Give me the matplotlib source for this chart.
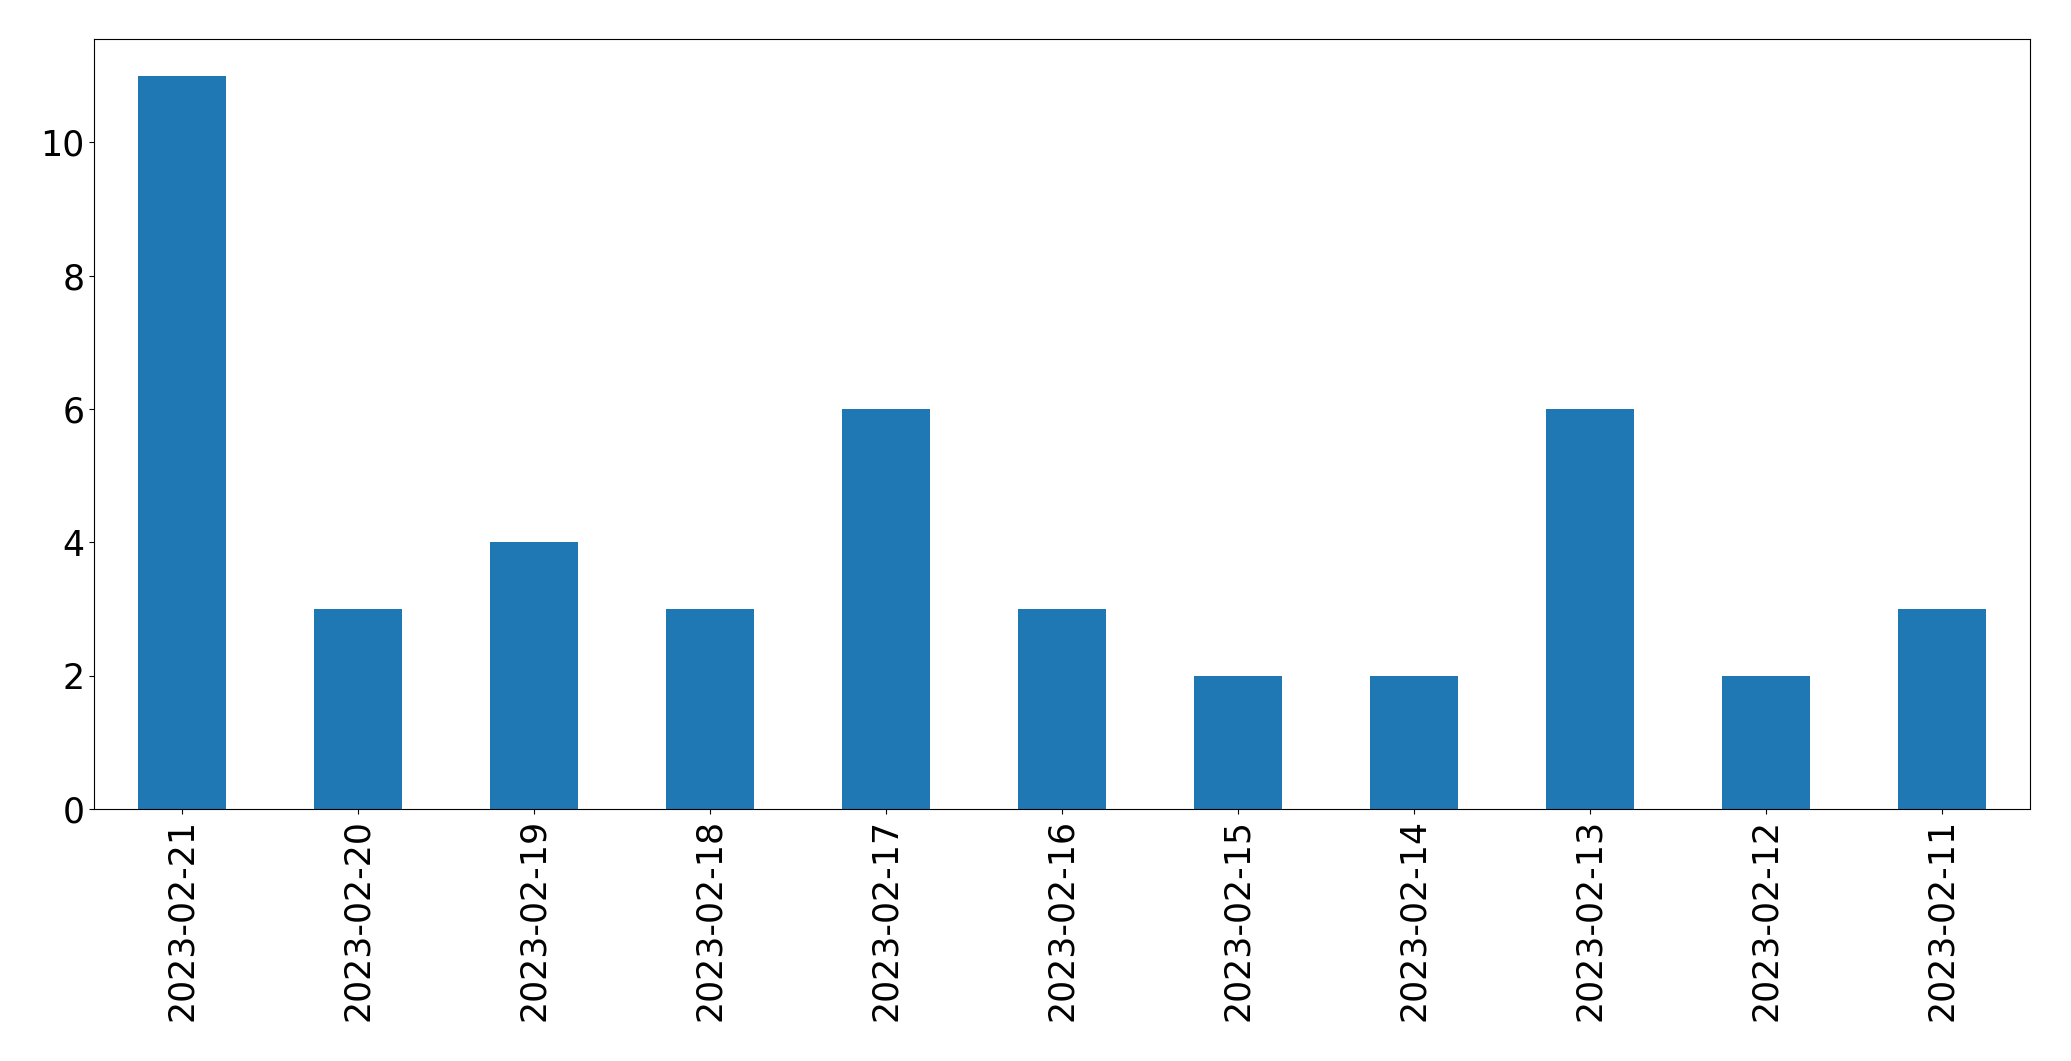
import matplotlib
matplotlib.use("Agg")
import matplotlib.pyplot as plt
import numpy as np

dates = ["2023-02-21", "2023-02-20", "2023-02-19", "2023-02-18", "2023-02-17",
         "2023-02-16", "2023-02-15", "2023-02-14", "2023-02-13", "2023-02-12",
         "2023-02-11"]
counts = [11, 3, 4, 3, 6, 3, 2, 2, 6, 2, 3]

fig = plt.figure(figsize=(20.71, 10.61), dpi=100)
ax = fig.add_axes([94/2071, 1 - 809/1061, (2030-94)/2071, (809-39)/1061])
x = np.arange(len(dates))
ax.bar(x, counts, width=0.5, color="#1f77b4")
ax.set_xlim(-0.5, len(dates) - 0.5)
ax.set_ylim(0, 11.55)
ax.set_xticks(x)
ax.set_xticklabels(dates, rotation=90, fontsize=25)
ax.set_yticks([0, 2, 4, 6, 8, 10])
ax.tick_params(axis="y", labelsize=25)
fig.savefig("out.png", dpi=100)
